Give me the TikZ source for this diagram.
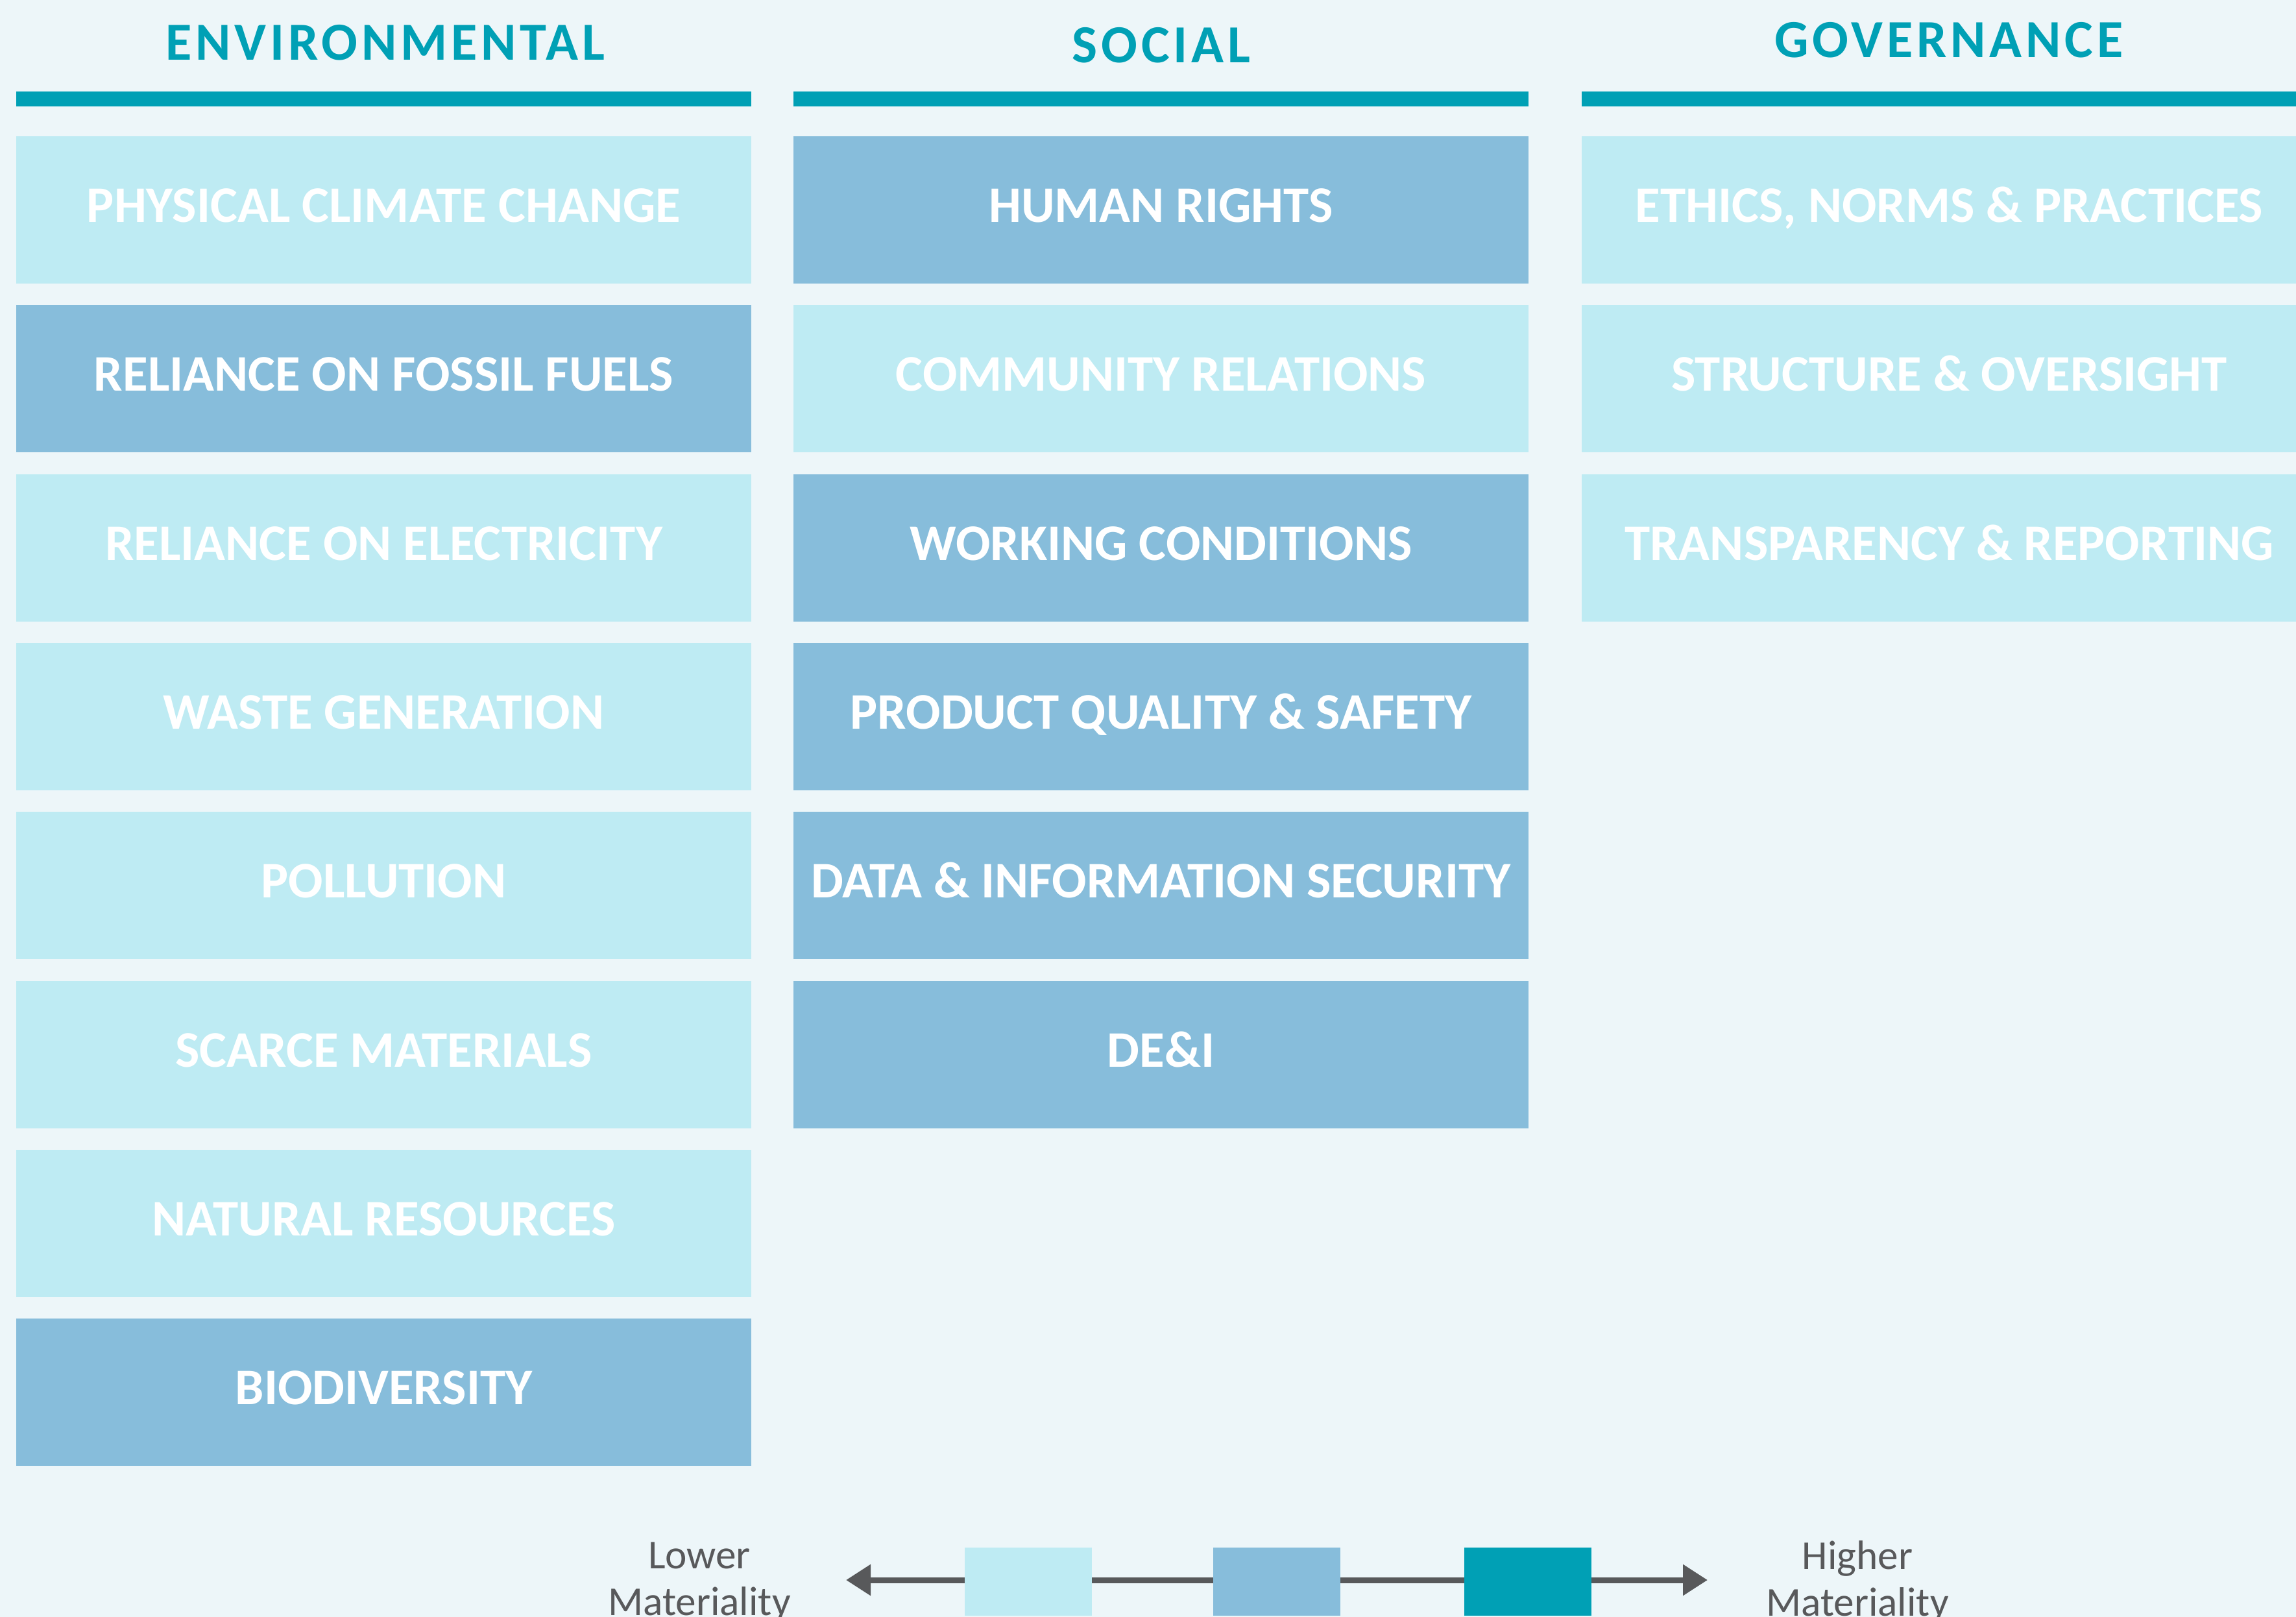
\documentclass[tikz,border=0pt]{standalone}
\usepackage{fontspec}
\setmainfont{Carlito}
\usetikzlibrary{arrows.meta}
\definecolor{bgpale}{HTML}{EDF6F9}
\definecolor{lowmat}{HTML}{BEEBF3}
\definecolor{midmat}{HTML}{87BDDB}
\definecolor{highmat}{HTML}{00A0B5}
\definecolor{legendgrey}{HTML}{58595B}
\tikzset{
  topic/.style={minimum width=11.33cm, minimum height=2.27cm, inner sep=0pt, text=white,
    font=\fontsize{22.5}{27}\selectfont\bfseries, text height=0.5cm, text depth=0.12cm},
  low/.style={topic, fill=lowmat},
  mid/.style={topic, fill=midmat},
  pillar/.style={text=highmat, inner sep=0pt, anchor=base,
    font=\fontsize{23.5}{28}\selectfont\bfseries\addfontfeatures{LetterSpace=7}},
  legendtext/.style={text=legendgrey, font=\fontsize{18}{20.5}\selectfont, align=center, inner sep=0pt, anchor=north},
  swatch/.style={minimum width=1.96cm, minimum height=1.05cm, inner sep=0pt, anchor=north west}
}
\begin{document}
\begin{tikzpicture}
  \useasboundingbox (0,0) rectangle (35.39,-24.92);
  \clip (0,0) rectangle (35.39,-24.92);
  \fill[bgpale] (0,0) rectangle (35.39,-24.92);
  % Pillar headers
  \node[pillar] (envhead) at (5.94,-0.93) {ENVIRONMENTAL};
  \node[pillar] (sochead) at (17.90,-0.97) {SOCIAL};
  \node[pillar] (govhead) at (30.04,-0.89) {GOVERNANCE};
  \fill[highmat] (0.25,-1.41) rectangle (11.58,-1.64);
  \fill[highmat] (12.23,-1.41) rectangle (23.56,-1.64);
  \fill[highmat] (24.38,-1.41) rectangle (35.71,-1.64);
  % Environmental topics
  \foreach \lbl/\sty [count=\i] in {PHYSICAL CLIMATE CHANGE/low, RELIANCE ON FOSSIL FUELS/mid,
      RELIANCE ON ELECTRICITY/low, WASTE GENERATION/low, POLLUTION/low,
      SCARCE MATERIALS/low, NATURAL RESOURCES/low, BIODIVERSITY/mid} {
    \node[\sty] (env\i) at (5.915,{-3.235-(\i-1)*2.603}) {\lbl};
  }
  % Social topics
  \foreach \lbl/\sty [count=\i] in {HUMAN RIGHTS/mid, COMMUNITY RELATIONS/low,
      WORKING CONDITIONS/mid, PRODUCT QUALITY \& SAFETY/mid,
      DATA \& INFORMATION SECURITY/mid, DE\&I/mid} {
    \node[\sty] (soc\i) at (17.895,{-3.235-(\i-1)*2.603}) {\lbl};
  }
  % Governance topics
  \foreach \lbl/\sty [count=\i] in {{ETHICS, NORMS \& PRACTICES}/low,
      STRUCTURE \& OVERSIGHT/low, TRANSPARENCY \& REPORTING/low} {
    \node[\sty] (gov\i) at (30.045,{-3.235-(\i-1)*2.603}) {\lbl};
  }
  % Materiality scale
  \coordinate (lowtip) at (13.04,-24.35);
  \coordinate (hightip) at (26.32,-24.35);
  \draw[legendgrey, line width=0.09cm, {Triangle[length=3.8mm,width=4.6mm]}-{Triangle[length=3.8mm,width=4.6mm]}]
    (lowtip) -- (hightip);
  \node[swatch, fill=lowmat] (lowbox) at (14.86,-23.84) {};
  \node[swatch, fill=midmat] (midbox) at (18.69,-23.84) {};
  \node[swatch, fill=highmat] (highbox) at (22.56,-23.84) {};
  \node[legendtext] (lowlbl) at (10.78,-23.76) {Lower\\Materiality};
  \node[legendtext] (highlbl) at (28.63,-23.74) {Higher\\Materiality};
\end{tikzpicture}
\end{document}
